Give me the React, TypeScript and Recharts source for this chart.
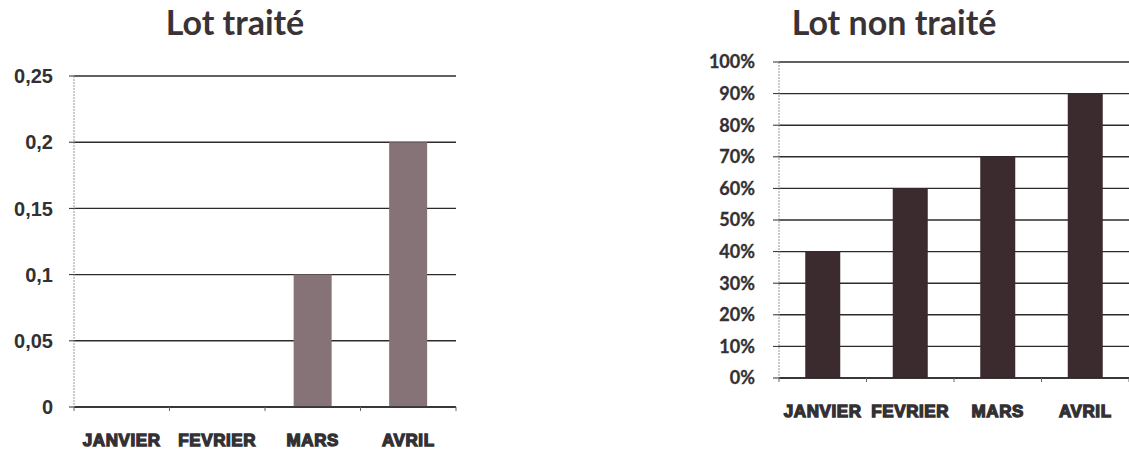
import React from 'react';
import { BarChart, Bar, XAxis, YAxis, CartesianGrid } from 'recharts';

// Months on the horizontal axis of both charts
const months = ['JANVIER', 'FEVRIER', 'MARS', 'AVRIL'];
// Treated batch (fraction)
const lotTraite = [0, 0, 0.1, 0.2];
// Untreated batch (share)
const lotNonTraite = [0.4, 0.6, 0.7, 0.9];
// Axis ticks
const traiteTicks = [0, 0.05, 0.1, 0.15, 0.2, 0.25];
const nonTraiteTicks = [0, 0.1, 0.2, 0.3, 0.4, 0.5, 0.6, 0.7, 0.8, 0.9, 1];

const traiteData = months.map((m, i) => ({ mois: m, valeur: lotTraite[i] }));
const nonTraiteData = months.map((m, i) => ({ mois: m, valeur: lotNonTraite[i] }));

const fmtComma = (v: number) => String(Number(v.toFixed(4))).replace('.', ',');
const fmtPct = (v: number) => `${Math.round(v * 100)}%`;

const TEXT = '#333033';

const makeXTick = (half: number, count: number) => (props: any) => {
  const { x, y, payload } = props;
  const off = payload && typeof payload.offset === 'number' && payload.offset > 0 ? payload.offset : half;
  const idx = payload?.index ?? 0;
  return (
    <g>
      <line x1={x - off} x2={x - off} y1={y} y2={y + 4} stroke="#666" strokeWidth={1} />
      {idx === count - 1 && (
        <line x1={x + off} x2={x + off} y1={y} y2={y + 4} stroke="#666" strokeWidth={1} />
      )}
      <text
        x={x}
        y={y + 33}
        textAnchor="middle"
        dominantBaseline="central"
        fontFamily="'Liberation Sans', Arial, sans-serif"
        fontWeight={700}
        fontSize={17}
        fill={TEXT}
        stroke={TEXT}
        strokeWidth={1.3}
        letterSpacing={0.6}
      >
        {payload.value}
      </text>
    </g>
  );
};

const titleStyle: React.CSSProperties = {
  position: 'absolute',
  top: 0,
  fontFamily: 'Lato, sans-serif',
  fontWeight: 700,
  fontSize: 34,
  lineHeight: '44px',
  color: '#3a3336',
  whiteSpace: 'nowrap',
  transform: 'translateX(-50%)',
};

export default function App() {
  return (
    <div style={{ position: 'absolute', left: 0, top: 0, width: 1129, height: 453, background: '#fff', overflow: 'hidden' }}>
      <div style={{ ...titleStyle, left: 235 }}>Lot traité</div>
      <div style={{ ...titleStyle, left: 894 }}>Lot non traité</div>

      <div style={{ position: 'absolute', left: 0, top: 0 }}>
        <BarChart
          width={480}
          height={453}
          data={traiteData}
          margin={{ top: 76, right: 24, bottom: 16, left: 0 }}
          barCategoryGap="30%"
        >
          <CartesianGrid vertical={false} stroke="#2e2a2c" strokeWidth={1.4} />
          <XAxis
            dataKey="mois"
            height={30}
            axisLine={{ stroke: '#2e2a2c', strokeWidth: 1.4 }}
            tickLine={false}
            tickSize={0}
            tickMargin={0}
            interval={0}
            tick={makeXTick(47.75, months.length)}
          />
          <YAxis
            width={74}
            domain={[0, 0.25]}
            ticks={traiteTicks}
            tickFormatter={fmtComma}
            axisLine={{ stroke: '#999', strokeDasharray: '2 1' }}
            tickLine={{ stroke: '#2e2a2c' }}
            tickSize={5}
            tickMargin={16}
            tick={{ fontFamily: "'Liberation Sans', Arial, sans-serif", fontWeight: 700, fontSize: 20, fill: TEXT }}
          />
          <Bar dataKey="valeur" fill="#857377" isAnimationActive={false} />
        </BarChart>
      </div>

      <div style={{ position: 'absolute', left: 680, top: 0 }}>
        <BarChart
          width={449}
          height={453}
          data={nonTraiteData}
          margin={{ top: 62, right: 0, bottom: 45, left: 0 }}
          barCategoryGap="30%"
        >
          <CartesianGrid vertical={false} stroke="#2e2a2c" strokeWidth={1.4} />
          <XAxis
            dataKey="mois"
            height={30}
            axisLine={{ stroke: '#2e2a2c', strokeWidth: 1.4 }}
            tickLine={false}
            tickSize={0}
            tickMargin={0}
            interval={0}
            tick={makeXTick(43.75, months.length)}
          />
          <YAxis
            width={99}
            domain={[0, 1]}
            ticks={nonTraiteTicks}
            tickFormatter={fmtPct}
            axisLine={{ stroke: '#999', strokeDasharray: '2 1' }}
            tickLine={{ stroke: '#2e2a2c' }}
            tickSize={6}
            tickMargin={18}
            tick={{ fontFamily: 'Lato, sans-serif', fontWeight: 700, fontSize: 18, fill: TEXT, stroke: TEXT, strokeWidth: 0.3 }}
          />
          <Bar dataKey="valeur" fill="#3b2a2e" isAnimationActive={false} />
        </BarChart>
      </div>
    </div>
  );
}
